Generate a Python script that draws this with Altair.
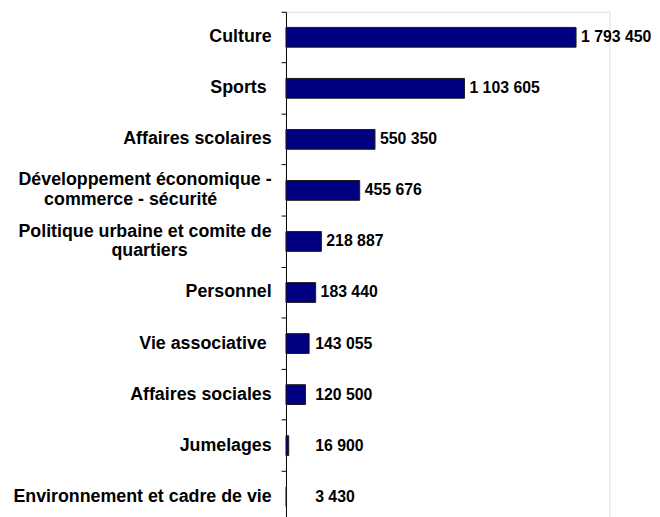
import altair as alt
import pandas as pd

NB = "\u00a0"
ZW = "\u200b"
categories = [
    "Culture",
    "Sports" + NB + ZW,
    "Affaires scolaires",
    "Développement économique -\ncommerce - sécurité" + NB * 11 + ZW,
    "Politique urbaine et comite de\nquartiers" + NB * 17 + ZW,
    "Personnel",
    "Vie associative" + NB + ZW,
    "Affaires sociales",
    "Jumelages",
    "Environnement et cadre de vie",
]
values = [1793450, 1103605, 550350, 455676, 218887, 183440, 143055, 120500, 16900, 3430]

df = pd.DataFrame({"cat": categories, "value": values})

FONT = "Liberation Sans"

y_enc = alt.Y(
    "cat:N",
    sort=categories,
    title=None,
    scale=alt.Scale(paddingInner=0, paddingOuter=0),
    axis=alt.Axis(
        bandPosition=0,
        labelOffset={"condition": {"test": "indexof(datum.label, '\\n') >= 0", "value": -10}, "value": 0},
        labelExpr="split(datum.label, '\\n')",
        labelFont=FONT,
        labelFontSize=18,
        labelFontWeight="bold",
        labelColor="black",
        labelPadding=10,
        labelLineHeight=20,
        labelLimit=0,
        tickSize=5,
        tickColor="black",
        domainColor="black",
        grid=False,
        minExtent=281,
        maxExtent=281,
    ),
)
x_scale = alt.Scale(domain=[0, 2000000], nice=False)

base = alt.Chart(df)

bars = base.mark_bar(
    color="#000080", stroke="#1a1a1a", strokeWidth=1, size=20
).encode(
    x=alt.X("value:Q", scale=x_scale, axis=None),
    y=y_enc,
)

labels = base.transform_calculate(
    lx="max(datum.value, 150000)"
).mark_text(
    align="left", baseline="middle", dx=5, font=FONT, fontSize=16,
    fontWeight="bold", color="black"
).encode(
    x=alt.X("lx:Q", scale=x_scale, axis=None),
    y=alt.Y("cat:N", sort=categories),
    text=alt.Text("value:Q", format=","),
)

chart = (
    alt.layer(bars, labels)
    .properties(width=327, height=516, padding={"left": 0, "top": 0, "right": 0, "bottom": 0})
    .configure_view(stroke=None)
    .configure(locale={"number": {"decimal": ",", "thousands": " ", "grouping": [3], "currency": ["", " €"]}})
)

chart.save("out.html", embed_options={"renderer": "svg", "actions": False})
